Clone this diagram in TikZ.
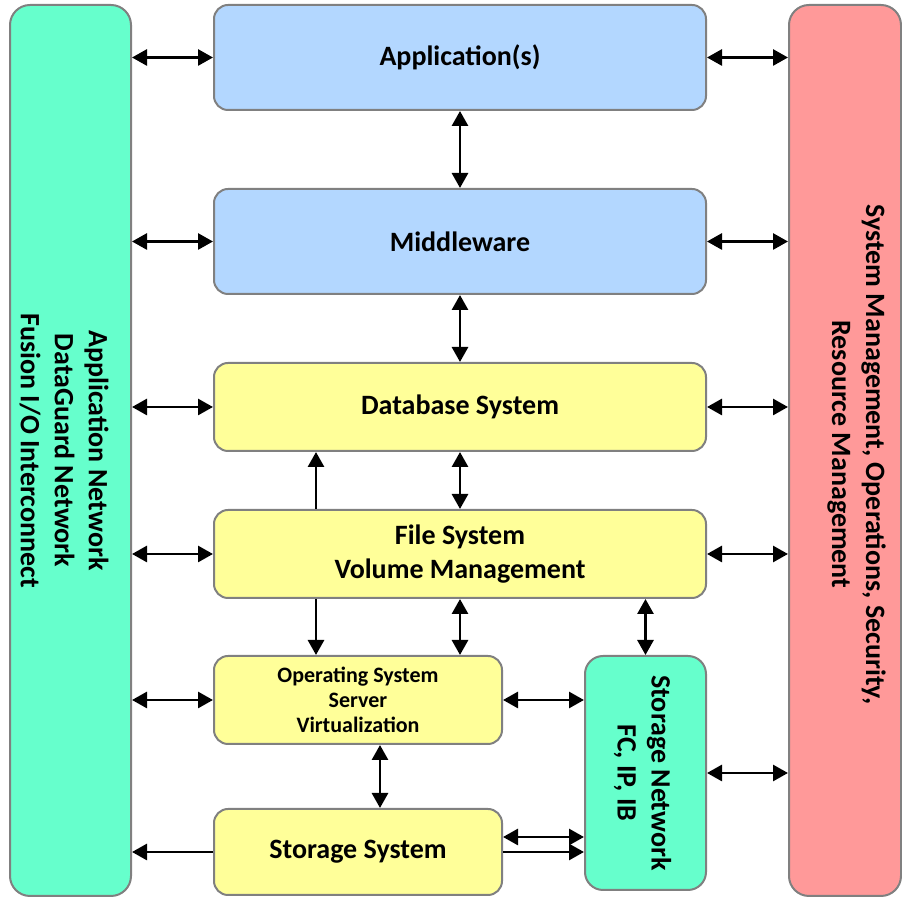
\documentclass[tikz,border=0pt]{standalone}
\usepackage{fontspec}
\setmainfont{Carlito}
\usepackage{xcolor}
\usetikzlibrary{arrows.meta, positioning}

\definecolor{appblue}{RGB}{179,215,255}
\definecolor{layeryellow}{RGB}{255,255,153}
\definecolor{netgreen}{RGB}{102,255,204}
\definecolor{mgmtred}{RGB}{255,153,153}
\definecolor{rimgray}{RGB}{128,128,128}

\begin{document}
\begin{tikzpicture}[x=0.5pt, y=-0.5pt, on grid,
    layer/.style={draw=rimgray, line width=1pt, rounded corners=7pt, minimum width=246pt,
        minimum height=44pt, align=center, font=\fontsize{14}{17}\selectfont\bfseries},
    bluelayer/.style={layer, fill=appblue, minimum height=52.5pt},
    yellowlayer/.style={layer, fill=layeryellow},
    halflayer/.style={yellowlayer, minimum width=144pt},
    bar/.style={layer, rounded corners=10pt, rotate=-90},
    bartext/.style={rotate=-90, align=center, font=\fontsize{14}{17}\selectfont\bfseries},
    arr/.style={line width=1.4pt, {Triangle[length=7.5pt,width=8pt]}-{Triangle[length=7.5pt,width=8pt]}},
    oneway/.style={line width=1.4pt, -{Triangle[length=7.5pt,width=8pt]}}]
        \useasboundingbox (0,0) rectangle (902,897);

        \node[bar, fill=netgreen, minimum width=445.5pt, minimum height=60.5pt] (lnet) at (70.5,450.5) {};
        \node[bartext] (lnettext) at ([xshift=-3.25pt]lnet.center)
            {Application Network\\DataGuard Network\\Fusion I/O Interconnect};
        \node[bar, fill=mgmtred, minimum width=445.5pt, minimum height=56pt] (mgmt) at (845,450.5) {};
        \node[bartext] (mgmttext) at ([xshift=5.75pt, yshift=-2pt]mgmt.center)
            {System Management, Operations, Security,\\Resource Management};

        \node[bluelayer] (app) at (460,57.5) {Application(s)};
        \node[bluelayer, below=92pt of app] (mid) {Middleware};
        \node[yellowlayer, below=82.75pt of mid] (db) {Database System};
        \node[yellowlayer, below=73.5pt of db] (fs) {File System\\Volume Management};
        \node[halflayer, below left=73pt and 51pt of fs, font=\fontsize{11}{12.5}\selectfont\bfseries] (os)
            {Operating System\\Server\\Virtualization};
        \node[halflayer, below=76pt of os, minimum height=43pt] (sto) {Storage System};
        \node[bar, fill=netgreen, rounded corners=9pt, minimum width=117pt, minimum height=60.5pt] (snet)
            at (645.5,773) {};
        \node[bartext] (snettext) at ([xshift=-1.5pt]snet.center) {Storage Network\\FC, IP, IB};

        \coordinate (fsup) at ([xshift=-72pt]fs.north);
        \coordinate (fsdown) at ([xshift=-72pt]fs.south);
        \coordinate (osdown) at ([xshift=11pt]os.south);
        \coordinate (stoup) at ([yshift=7.5pt]sto.east);

        \path[arr]
        (app.west) edge (app.west -| lnet.north)
        (mid.west) edge (mid.west -| lnet.north)
        (db.west) edge (db.west -| lnet.north)
        (fs.west) edge (fs.west -| lnet.north)
        (os.west) edge (os.west -| lnet.north)
        (app.east) edge (app.east -| mgmt.south)
        (mid.east) edge (mid.east -| mgmt.south)
        (db.east) edge (db.east -| mgmt.south)
        (fs.east) edge (fs.east -| mgmt.south)
        (snet.north) edge (snet.north -| mgmt.south)
        (app.south) edge (mid.north)
        (mid.south) edge (db.north)
        (db.south) edge (fs.north)
        (fs.south) edge (fs.south |- os.north)
        (snet.west) edge (snet.west |- fs.south)
        (os.east) edge (os.east -| snet.south)
        (osdown) edge (osdown |- sto.north)
        (stoup) edge (stoup -| snet.south);

        \path[oneway]
        (sto.west) edge (sto.west -| lnet.north)
        (sto.east) edge (sto.east -| snet.south)
        (fsup) edge (fsup |- db.south)
        (fsdown) edge (fsdown |- os.north);
    \end{tikzpicture}
\end{document}
